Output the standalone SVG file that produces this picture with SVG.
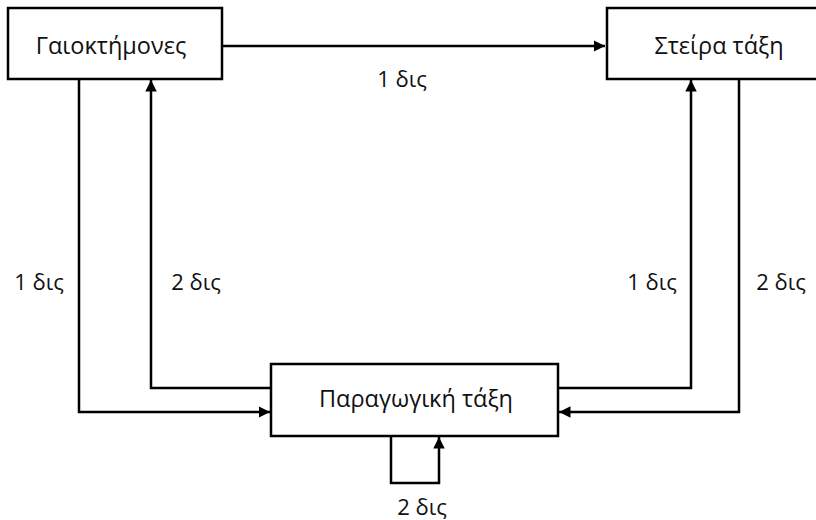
<svg xmlns="http://www.w3.org/2000/svg" width="816" height="520" viewBox="0 0 816 520">
  <style>
    .box { fill: #ffffff; stroke: #000000; stroke-width: 2.5; }
    .t { font-family: "Open Sans", "Noto Sans", "DejaVu Sans", sans-serif; font-size: 22px; fill: #111111; text-anchor: middle; }
    .n { font-size: 23.5px; }
    .c { fill: none; stroke: #000000; stroke-width: 2.5; }
  </style>
  <defs>
    <marker id="arr" viewBox="0 0 10 10" refX="10" refY="5" markerWidth="4.6" markerHeight="4.6" orient="auto" markerUnits="strokeWidth">
      <path d="M0,0 L10,5 L0,10 Z" fill="#000000"/>
    </marker>
  </defs>
  <rect width="816" height="520" fill="#ffffff"/>
  <g id="connectors">
    <path class="c" d="M222,46 H605" marker-end="url(#arr)"/>
    <path class="c" d="M79,79 V412 H270" marker-end="url(#arr)"/>
    <path class="c" d="M271,388 H151 V80" marker-end="url(#arr)"/>
    <path class="c" d="M558,388 H691 V80" marker-end="url(#arr)"/>
    <path class="c" d="M739,79 V412 H559" marker-end="url(#arr)"/>
    <path class="c" d="M391,436 V483 H439 V437" marker-end="url(#arr)"/>
  </g>
  <g id="labels">
    <text class="t" x="402" y="87">1 δις</text>
    <text class="t" x="39" y="290">1 δις</text>
    <text class="t" x="196" y="290">2 δις</text>
    <text class="t" x="652" y="290">1 δις</text>
    <text class="t" x="781" y="290">2 δις</text>
    <text class="t" x="422" y="515">2 δις</text>
  </g>
  <g id="node-gaioktimones">
    <rect class="box" x="8" y="8" width="214" height="71"/>
    <text class="t n" x="111" y="54">Γαιοκτήμονες</text>
  </g>
  <g id="node-steira">
    <rect class="box" x="607" y="8" width="220" height="71"/>
    <text class="t n" x="719" y="54">Στείρα τάξη</text>
  </g>
  <g id="node-paragogiki">
    <rect class="box" x="271" y="364" width="287" height="72"/>
    <text class="t n" x="416" y="407">Παραγωγική τάξη</text>
  </g>
</svg>
